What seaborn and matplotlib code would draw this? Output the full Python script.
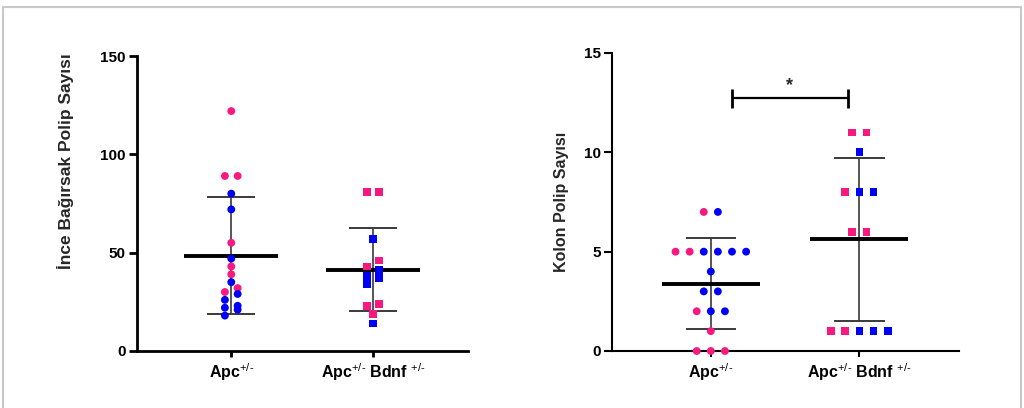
import numpy as np
import pandas as pd
import matplotlib
matplotlib.use("Agg")
import matplotlib.pyplot as plt
import seaborn as sns
from matplotlib.lines import Line2D

# ---------------- data ----------------
groups = ["Apc", "Apc Bdnf"]
group_labels = [r"Apc$^{\mathrm{+/}\text{-}}$", r"Apc$^{\mathrm{+/}\text{-}}$ Bdnf $^{\mathrm{+/}\text{-}}$"]

si_apc_vals = [122, 89, 89, 80, 72, 55, 47, 43, 39, 35, 32, 30, 29, 26, 23, 22, 21, 18]
si_apc_sex = ["F", "F", "F", "M", "M", "F", "M", "F", "F", "M", "F", "F", "M", "M", "M", "M", "M", "M"]
si_bdnf_vals = [81, 81, 57, 46, 43, 41, 38, 37, 34, 24, 23, 19, 14]
si_bdnf_sex = ["F", "F", "M", "F", "F", "M", "M", "M", "M", "F", "F", "F", "M"]

colon_apc_vals = [7, 7, 5, 5, 5, 5, 5, 5, 4, 3, 3, 2, 2, 2, 1, 0, 0, 0]
colon_apc_sex = ["F", "M", "F", "F", "M", "M", "M", "M", "M", "M", "M", "F", "M", "M", "F", "F", "F", "F"]
colon_bdnf_vals = [11, 11, 10, 8, 8, 8, 6, 6, 1, 1, 1, 1, 1]
colon_bdnf_sex = ["F", "F", "M", "F", "M", "M", "F", "F", "F", "F", "M", "M", "M"]

si_ticks = [0, 50, 100, 150]
colon_ticks = [0, 5, 10, 15]
si_ylabel = "İnce Bağırsak Polip Sayısı"
colon_ylabel = "Kolon Polip Sayısı"
sig_text = "*"

PINK = "#F7197F"
BLUE = "#0000F5"
palette = {"F": PINK, "M": BLUE}
FONT = ["Liberation Sans", "DejaVu Sans"]


def row_offsets(vals, sexes, row_h, step):
    """Prism-like layout: bin nearby values into rows, spread each row symmetrically."""
    n = len(vals)
    rank = {"F": 0, "M": 1}
    order = sorted(range(n), key=lambda i: (vals[i], rank[sexes[i]]))
    offs = np.zeros(n)
    rows, cur, start = [], [], None
    for i in order:
        if start is None or vals[i] - start >= row_h:
            if cur:
                rows.append(cur)
            cur, start = [i], vals[i]
        else:
            cur.append(i)
    if cur:
        rows.append(cur)
    for r in rows:
        m = len(r)
        for k, i in enumerate(r):
            offs[i] = (k - (m - 1) / 2) * step
    return offs


def build_df(vals_list, sex_list, row_h, step):
    frames = []
    for gi, (g, v, s) in enumerate(zip(groups, vals_list, sex_list)):
        off = row_offsets(v, s, row_h, step)
        frames.append(pd.DataFrame({"group": g, "x": gi + off, "value": v, "sex": s}))
    return pd.concat(frames, ignore_index=True)


sns.set_theme(style="white")
plt.rcParams["font.family"] = FONT
plt.rcParams["mathtext.fontset"] = "custom"
plt.rcParams["mathtext.rm"] = "Liberation Sans"
plt.rcParams["mathtext.default"] = "regular"

fig = plt.figure(figsize=(10.24, 4.08), dpi=100)

# frame lines around the figure
for xs, ys in [([3 / 1024, 1021 / 1024], [1 - 7 / 408, 1 - 7 / 408]),
               ([3 / 1024, 3 / 1024], [0, 1 - 7 / 408]),
               ([1021 / 1024, 1021 / 1024], [0, 1 - 7 / 408])]:
    fig.add_artist(Line2D(xs, ys, transform=fig.transFigure, color="#C8C8C8", lw=1.5))

ax1 = fig.add_axes([137 / 1024, 57 / 408, 331 / 1024, 295 / 408])
ax2 = fig.add_axes([612 / 1024, 57 / 408, 347 / 1024, 298 / 408])


def draw_panel(ax, vals_list, sex_list, ymax, ticks, ylabel, ylabel_size, spine_w, step, label_xy):
    row_h = ymax * 0.0254
    df = build_df(vals_list, sex_list, row_h, step)
    sns.scatterplot(data=df, x="x", y="value", hue="sex", style="group",
                    markers={groups[0]: "o", groups[1]: "s"}, palette=palette,
                    s=32, linewidth=0, legend=False, ax=ax, zorder=4, clip_on=False)
    for gi, v in enumerate(vals_list):
        v = np.asarray(v, float)
        m, sd = v.mean(), v.std(ddof=1)
        ax.vlines(gi, m - sd, m + sd, color="#555555", lw=1.4, zorder=2)
        ax.hlines([m - sd, m + sd], gi - 0.17, gi + 0.17, color="#3A3A3A", lw=1.4, zorder=2)
        ax.hlines(m, gi - 0.33, gi + 0.33, color="black", lw=2.8, zorder=3)
    ax.set_xlim(-0.665, 1.67)
    ax.set_ylim(0, ymax)
    ax.set_yticks(ticks)
    ax.set_yticklabels([str(t) for t in ticks], fontsize=11, fontweight="bold")
    ax.set_xticks([0, 1])
    ax.set_xticklabels(group_labels, fontsize=11.5, fontweight="bold")
    ax.set_xlabel("")
    ax.set_ylabel(ylabel, fontsize=ylabel_size, fontweight="bold")
    ax.yaxis.set_label_coords(*label_xy)
    for side in ["top", "right"]:
        ax.spines[side].set_visible(False)
    for side in ["left", "bottom"]:
        ax.spines[side].set_linewidth(spine_w)
        ax.spines[side].set_color("black")
    ax.tick_params(axis="y", length=6, width=spine_w, pad=2, left=True, colors="black")
    ax.tick_params(axis="x", length=4.5, width=spine_w, pad=3, bottom=True, colors="black")
    ax.set_facecolor("none")


draw_panel(ax1, [si_apc_vals, si_bdnf_vals], [si_apc_sex, si_bdnf_sex], 150, si_ticks,
           si_ylabel, 12.5, 2.0, 0.09, (-0.19, 0.642))
draw_panel(ax2, [colon_apc_vals, colon_bdnf_vals], [colon_apc_sex, colon_bdnf_sex], 15, colon_ticks,
           colon_ylabel, 11.5, 1.5, 0.095, (-0.125, 0.5))

# significance bracket
yb = 12.72
ax2.plot([0.142, 0.926], [yb, yb], color="black", lw=1.6, solid_capstyle="butt")
ax2.vlines([0.142, 0.926], yb - 0.48, yb + 0.48, color="black", lw=2.0)
ax2.text(0.53, 13.35, sig_text, ha="center", va="center", fontsize=13, fontweight="bold")

fig.savefig("out.png", dpi=100)
